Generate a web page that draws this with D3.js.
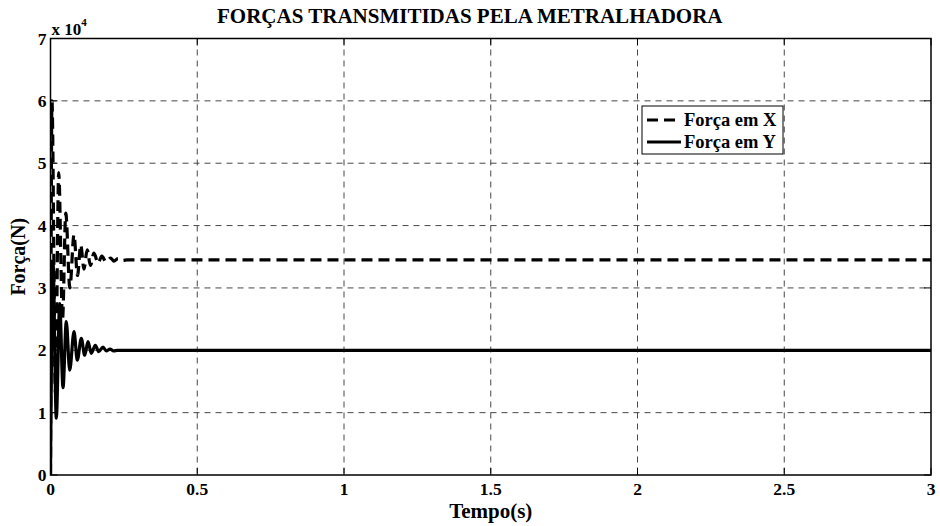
<!DOCTYPE html>
<html>
<head>
<meta charset="utf-8">
<script src="https://cdn.jsdelivr.net/npm/d3@7/dist/d3.min.js"></script>
<style>
  html, body { margin: 0; padding: 0; background: #fff; }
  svg { display: block; }
  text { font-family: "Liberation Serif", "Times New Roman", serif; font-weight: bold; fill: #000; }
</style>
</head>
<body>
<svg id="chart" width="940" height="526"></svg>
<script>
// Transmitted forces (units of 10^4 N) versus time (s): peaks and troughs of the transient, then the steady level
const forceXTime  = [0, 0.005, 0.017, 0.028, 0.041, 0.052, 0.066, 0.080, 0.092, 0.103, 0.114, 0.125, 0.136, 0.148, 0.162, 0.175, 0.189, 0.205, 0.216, 0.230, 0.245, 0.262, 3.0];
const forceXValue = [0, 6.0,   1.3,   4.85,  2.5,   4.2,   3.0,   3.85,  3.2,   3.69,  3.3,   3.61,  3.36,  3.56,  3.40,  3.51,  3.42,  3.48,  3.43,  3.47,  3.44,  3.45,  3.45];

const forceYTime  = [0, 0.0085, 0.0198, 0.0313, 0.0426, 0.0538, 0.0654, 0.0801, 0.0913, 0.1049, 0.1165, 0.1278, 0.139, 0.1526, 0.1642, 0.1789, 0.1901, 0.203, 0.215, 0.228, 3.0];
const forceYValue = [0, 3.4,    0.91,   2.75,   1.40,   2.46,   1.68,   2.30,   1.84,   2.19,   1.92,   2.14,   1.95,  2.08,   1.98,   2.05,   1.99,   2.02,  1.99,  2.0,   2.0];

const xTicks = [0, 0.5, 1, 1.5, 2, 2.5, 3];
const xTickLabels = ["0", "0.5", "1", "1.5", "2", "2.5", "3"];
const yTicks = [0, 1, 2, 3, 4, 5, 6, 7];
const yTickLabels = ["0", "1", "2", "3", "4", "5", "6", "7"];

const seriesNames = ["Força em X", "Força em Y"];
const titleText = "FORÇAS TRANSMITIDAS PELA METRALHADORA";
const xLabelText = "Tempo(s)";
const yLabelText = "Força(N)";

const svg = d3.select("#chart");
const plotLeft = 50.5, plotRight = 931, plotTop = 38.5, plotBottom = 475;

const x = d3.scaleLinear().domain([0, 3]).range([plotLeft, plotRight]);
const y = d3.scaleLinear().domain([0, 7]).range([plotBottom, plotTop]);

// grid
const grid = svg.append("g").attr("stroke", "#333").attr("stroke-width", 0.9).attr("stroke-dasharray", "6,5");
grid.selectAll("line.gx").data(xTicks.slice(1, -1)).join("line")
  .attr("x1", d => x(d)).attr("x2", d => x(d)).attr("y1", plotTop).attr("y2", plotBottom);
grid.selectAll("line.gy").data(yTicks.slice(1, -1)).join("line")
  .attr("y1", d => y(d)).attr("y2", d => y(d)).attr("x1", plotLeft).attr("x2", plotRight);

// inward ticks on all four sides
const tickLen = 7;
const ticks = svg.append("g").attr("stroke", "#000").attr("stroke-width", 1);
xTicks.forEach(t => {
  ticks.append("line").attr("x1", x(t)).attr("x2", x(t)).attr("y1", plotBottom).attr("y2", plotBottom - tickLen);
  ticks.append("line").attr("x1", x(t)).attr("x2", x(t)).attr("y1", plotTop).attr("y2", plotTop + tickLen);
});
yTicks.forEach(t => {
  ticks.append("line").attr("y1", y(t)).attr("y2", y(t)).attr("x1", plotLeft).attr("x2", plotLeft + tickLen);
  ticks.append("line").attr("y1", y(t)).attr("y2", y(t)).attr("x1", plotRight).attr("x2", plotRight - tickLen);
});

// tick labels
svg.append("g").selectAll("text").data(xTicks).join("text")
  .attr("x", d => x(d)).attr("y", plotBottom + 20)
  .attr("text-anchor", "middle").attr("font-size", 17.5)
  .text((d, i) => xTickLabels[i]);
svg.append("g").selectAll("text").data(yTicks).join("text")
  .attr("x", plotLeft - 4).attr("y", d => y(d) + 6)
  .attr("text-anchor", "end").attr("font-size", 17.5)
  .text((d, i) => yTickLabels[i]);

// exponent
const expo = svg.append("text").attr("x", plotLeft + 1).attr("y", plotTop - 4).attr("font-size", 17);
expo.append("tspan").text("x 10");
expo.append("tspan").attr("dy", -9).attr("font-size", 11).text("4");

// clip
svg.append("clipPath").attr("id", "plotClip").append("rect")
  .attr("x", plotLeft).attr("y", plotTop).attr("width", plotRight - plotLeft).attr("height", plotBottom - plotTop);

const line = d3.line().curve(d3.curveMonotoneX).x(d => x(d[0])).y(d => y(d[1]));
const dataX = forceXTime.map((t, i) => [t, forceXValue[i]]);
const dataY = forceYTime.map((t, i) => [t, forceYValue[i]]);

const plot = svg.append("g").attr("clip-path", "url(#plotClip)");
plot.append("path").datum(dataX).attr("d", line)
  .attr("fill", "none").attr("stroke", "#000").attr("stroke-width", 3.2)
  .attr("stroke-dasharray", "11,6");
plot.append("path").datum(dataY).attr("d", line)
  .attr("fill", "none").attr("stroke", "#000").attr("stroke-width", 3.2);

// axes box
svg.append("rect").attr("x", plotLeft).attr("y", plotTop).attr("width", plotRight - plotLeft).attr("height", plotBottom - plotTop)
  .attr("fill", "none").attr("stroke", "#000").attr("stroke-width", 1.5);

// titles
svg.append("text").attr("x", (plotLeft + plotRight) / 2 - 21).attr("y", 23)
  .attr("text-anchor", "middle").attr("font-size", 21).text(titleText);
svg.append("text").attr("x", (plotLeft + plotRight) / 2).attr("y", plotBottom + 43)
  .attr("text-anchor", "middle").attr("font-size", 21).text(xLabelText);
svg.append("text").attr("transform", `translate(${plotLeft - 26},${(plotTop + plotBottom) / 2}) rotate(-90)`)
  .attr("text-anchor", "middle").attr("font-size", 20).text(yLabelText);

// legend
const lg = svg.append("g").attr("transform", "translate(642,106)");
lg.append("rect").attr("width", 141).attr("height", 48)
  .attr("fill", "#fff").attr("stroke", "#000").attr("stroke-width", 1);
const legendDash = ["11,6", null];
seriesNames.forEach((name, i) => {
  const yy = 14 + i * 22;
  const l = lg.append("line").attr("x1", 5).attr("x2", 39).attr("y1", yy).attr("y2", yy)
    .attr("stroke", "#000").attr("stroke-width", 3.2);
  if (legendDash[i]) l.attr("stroke-dasharray", legendDash[i]);
  lg.append("text").attr("x", 42).attr("y", yy + 6).attr("font-size", 18.5).text(name);
});
</script>
</body>
</html>
